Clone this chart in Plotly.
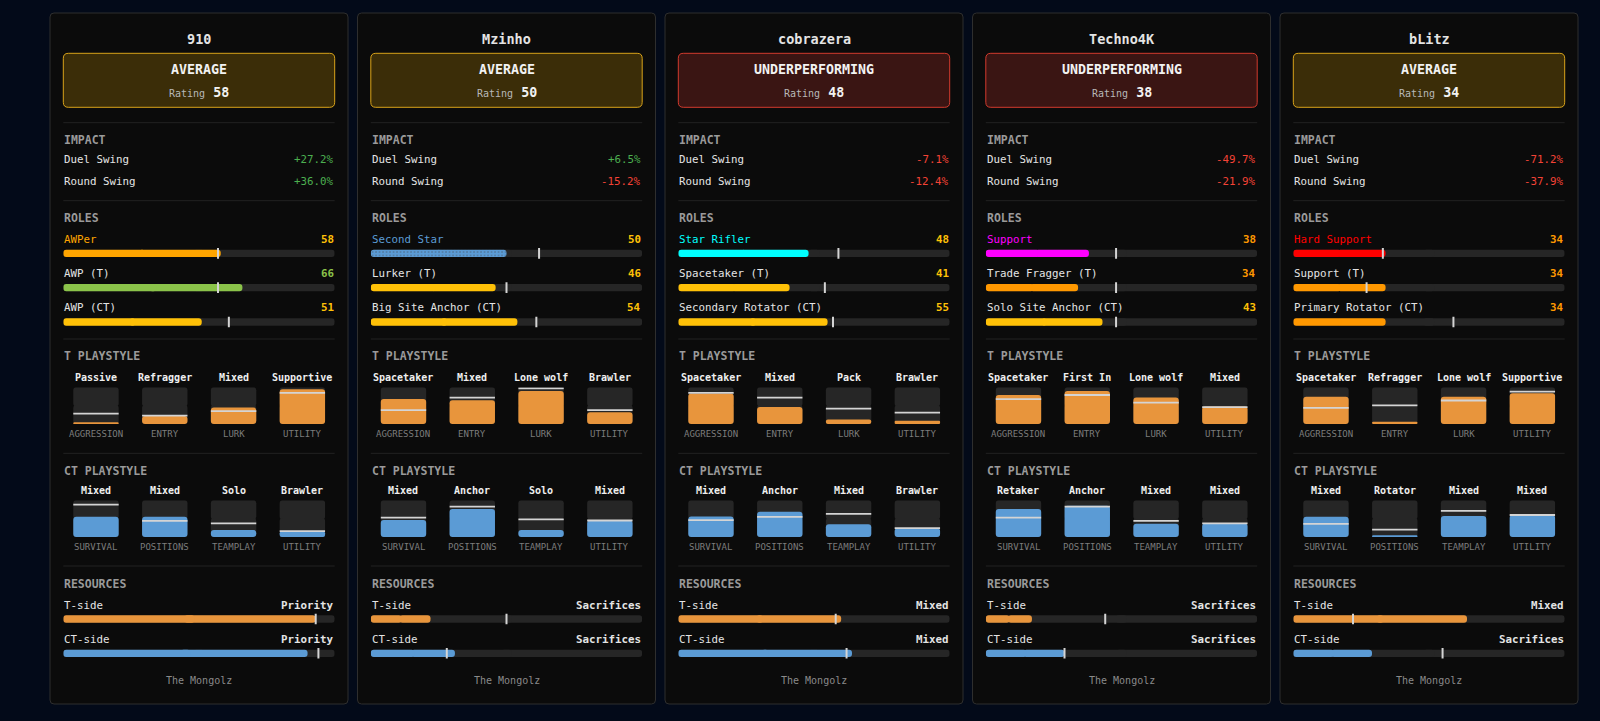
import plotly.graph_objects as go

W, H = 1600, 721

names = ["910", "Mzinho", "cobrazera", "Techno4K", "bLitz"]
verdicts = ["AVERAGE", "AVERAGE", "UNDERPERFORMING", "UNDERPERFORMING", "AVERAGE"]
ratings = [58, 50, 48, 38, 34]
team = "The Mongolz"

duel_swing = [27.2, 6.5, -7.1, -49.7, -71.2]
round_swing = [36.0, -15.2, -12.4, -21.9, -37.9]

role_names = [
    ["AWPer", "AWP (T)", "AWP (CT)"],
    ["Second Star", "Lurker (T)", "Big Site Anchor (CT)"],
    ["Star Rifler", "Spacetaker (T)", "Secondary Rotator (CT)"],
    ["Support", "Trade Fragger (T)", "Solo Site Anchor (CT)"],
    ["Hard Support", "Support (T)", "Primary Rotator (CT)"],
]
role_scores = [[58, 66, 51], [50, 46, 54], [48, 41, 55], [38, 34, 43], [34, 34, 34]]
role_avg = [[57, 57, 61], [62, 50, 61], [59, 54, 57], [48, 48, 48], [33, 27, 59]]
primary_colors = ["#ffa500", "#5b9bd5", "#00ffff", "#ff00ff", "#ff0000"]
primary_dotted = [False, True, False, False, False]

t_metrics = ["AGGRESSION", "ENTRY", "LURK", "UTILITY"]
t_styles = [
    ["Passive", "Refragger", "Mixed", "Supportive"],
    ["Spacetaker", "Mixed", "Lone wolf", "Brawler"],
    ["Spacetaker", "Mixed", "Pack", "Brawler"],
    ["Spacetaker", "First In", "Lone wolf", "Mixed"],
    ["Spacetaker", "Refragger", "Lone wolf", "Supportive"],
]
t_values = [[4, 22, 45, 95], [68, 65, 90, 32], [83, 46, 12, 9], [79, 90, 72, 48], [74, 6, 74, 84]]
t_avg = [[28, 23, 35, 85], [38, 72, 97, 38], [85, 72, 42, 31], [68, 79, 58, 46], [44, 51, 64, 88]]

ct_metrics = ["SURVIVAL", "POSITIONS", "TEAMPLAY", "UTILITY"]
ct_styles = [
    ["Mixed", "Mixed", "Solo", "Brawler"],
    ["Mixed", "Anchor", "Solo", "Mixed"],
    ["Mixed", "Anchor", "Mixed", "Brawler"],
    ["Retaker", "Anchor", "Mixed", "Mixed"],
    ["Mixed", "Rotator", "Mixed", "Mixed"],
]
ct_values = [[55, 55, 19, 16], [46, 76, 19, 45], [56, 69, 35, 24], [76, 85, 36, 37], [55, 3, 57, 60]]
ct_avg = [[88, 44, 37, 16], [53, 83, 48, 45], [46, 55, 63, 24], [53, 83, 44, 37], [36, 20, 71, 60]]

res_sides = ["T-side", "CT-side"]
t_res = [93, 22, 60, 17, 64]
t_res_avg = [93, 50, 58, 44, 22]
ct_res = [90, 31, 64, 29, 29]
ct_res_avg = [94, 28, 62, 29, 55]
t_res_label = ["Priority", "Sacrifices", "Mixed", "Sacrifices", "Mixed"]
ct_res_label = ["Priority", "Sacrifices", "Mixed", "Sacrifices", "Sacrifices"]

# ---- look ----
BG = "#030a19"
CARD = "#0b0b0b"
CARD_LINE = "#2e2e2e"
DIVIDER = "#222222"
TRACK = "#262626"
TXT = "#e4e4e4"
HEAD = "#9a9a9a"
SUB = "#7c7c7c"
T_COL = "#e8953c"
CT_COL = "#5b9bd5"
MARK = "#d4d4d4"
GREEN = "#4caf50"
RED = "#f44336"
FONT = "DejaVu Sans Mono"
VERDICT_STYLE = {"AVERAGE": ("#d9a31a", "#3b2d08"),
                 "UNDERPERFORMING": ("#d23b2e", "#3a1513")}

CARD_X0, CARD_STEP, CARD_W = 50, 307.5, 298
CARD_Y0, CARD_Y1 = 13, 704
PAD = 13.3
CW = CARD_W - 2 * PAD
ROW = 34.3


def px(x):
    return x / W


def py(y):
    return 1 - y / H


def score_color(v):
    if v >= 60:
        return "#8bc34a"
    if v >= 40:
        return "#ffc107"
    return "#ff9800"


fig = go.Figure()
shapes, annotations, axes = [], [], {}
axis_n = [0]


def new_axes(x0, x1, top, bottom, xr, yr):
    axis_n[0] += 1
    s = "" if axis_n[0] == 1 else str(axis_n[0])
    axes["xaxis" + s] = dict(domain=[px(x0), px(x1)], range=xr, visible=False,
                             fixedrange=True, anchor="y" + s)
    axes["yaxis" + s] = dict(domain=[py(bottom), py(top)], range=yr, visible=False,
                             fixedrange=True, anchor="x" + s)
    return "x" + s, "y" + s


def text(x, y, s, size=11, color=TXT, anchor="left", bold=False,
         xref="paper", yref="paper", yshift=0):
    if bold:
        s = "<b>" + s + "</b>"
    annotations.append(dict(x=x, y=y, xref=xref, yref=yref, text=s, showarrow=False,
                            xanchor=anchor, yanchor="middle", yshift=yshift, borderpad=0,
                            font=dict(family=FONT, size=size, color=color)))


def rrect(x0, y0, x1, y1, r):
    return (f"M{px(x0 + r)},{py(y0)} L{px(x1 - r)},{py(y0)} Q{px(x1)},{py(y0)} {px(x1)},{py(y0 + r)} "
            f"L{px(x1)},{py(y1 - r)} Q{px(x1)},{py(y1)} {px(x1 - r)},{py(y1)} "
            f"L{px(x0 + r)},{py(y1)} Q{px(x0)},{py(y1)} {px(x0)},{py(y1 - r)} "
            f"L{px(x0)},{py(y0 + r)} Q{px(x0)},{py(y0)} {px(x0 + r)},{py(y0)} Z")


def pill(xa, ya, idx, values, colors, width, radius, horizontal, pattern=None):
    # two slightly overlapping pieces, one rounded at each end -> bar rounded at both ends
    for lo, hi in ((0.48, 1.0), (0.52, 0.0)):
        base = [v * lo for v in values]
        size = [v * (hi - lo) for v in values]
        mk = dict(color=colors, cornerradius=radius, line=dict(width=0))
        if pattern:
            mk["pattern"] = pattern
        kw = dict(x=size, y=idx, orientation="h") if horizontal else dict(x=idx, y=size)
        fig.add_trace(go.Bar(base=base, width=width, marker=mk, xaxis=xa, yaxis=ya,
                             hoverinfo="skip", showlegend=False, **kw))


def hbars(xa, ya, values, avgs, colors, pattern=None):
    idx = list(range(len(values)))
    pill(xa, ya, idx, [100] * len(values), TRACK, 0.213, "50%", True)
    pill(xa, ya, idx, values, colors, 0.213, "50%", True, pattern)
    fig.add_trace(go.Scatter(x=avgs, y=idx, mode="markers", xaxis=xa, yaxis=ya,
                             marker=dict(symbol="line-ns", size=7.6, color=MARK,
                                         line=dict(color=MARK, width=2)),
                             hoverinfo="skip", showlegend=False))


def vboxes(xa, ya, values, avgs, color):
    idx = list(range(len(values)))
    pill(xa, ya, idx, [100] * 4, TRACK, 0.66, 3, False)
    # fill hangs from its value down to 0, so the rounded end sits at the bottom
    fig.add_trace(go.Bar(x=idx, y=[-v for v in values], base=values, width=0.66,
                         marker=dict(color=color, cornerradius=3, line=dict(width=0)),
                         xaxis=xa, yaxis=ya, hoverinfo="skip", showlegend=False))
    fig.add_trace(go.Scatter(x=idx, y=avgs, mode="markers", xaxis=xa, yaxis=ya,
                             marker=dict(symbol="line-ew", size=32.4, color=MARK,
                                         line=dict(color=MARK, width=1.8)),
                             hoverinfo="skip", showlegend=False))


for i in range(len(names)):
    L = CARD_X0 + CARD_STEP * i
    CL, CR = L + PAD, L + PAD + CW
    mid = L + CARD_W / 2

    # card + rating box
    shapes.append(dict(type="path", path=rrect(L, CARD_Y0, L + CARD_W, CARD_Y1, 4),
                       xref="paper", yref="paper", fillcolor=CARD,
                       line=dict(color=CARD_LINE, width=1), layer="below"))
    edge, fill = VERDICT_STYLE[verdicts[i]]
    shapes.append(dict(type="path", path=rrect(CL, 53.3, CR, 107.3, 5),
                       xref="paper", yref="paper", fillcolor=fill,
                       line=dict(color=edge, width=1), layer="below"))
    for yd in (122.7, 200.7, 339, 453.3, 566):
        shapes.append(dict(type="line", x0=px(CL), x1=px(CR), y0=py(yd), y1=py(yd),
                           xref="paper", yref="paper", line=dict(color=DIVIDER, width=1),
                           layer="below"))

    text(px(mid), py(39.3), names[i], size=13.5, anchor="center", bold=True)
    text(px(mid), py(70), verdicts[i], size=13.3, anchor="center", bold=True, color="#f2f2f2")
    text(px(mid), py(92.5),
         f"<span style='font-size:10px;color:#b8b8b8'>Rating</span> <b>{ratings[i]}</b>",
         size=13.3, anchor="center", color="#f2f2f2")

    # impact
    text(px(CL), py(140), "IMPACT", size=11.5, color=HEAD, bold=True)
    for yy, lab, v in ((159.3, "Duel Swing", duel_swing[i]), (181, "Round Swing", round_swing[i])):
        text(px(CL), py(yy), lab, size=10.8)
        text(px(CR), py(yy), f"{v:+.1f}%", size=10.8, anchor="right",
             color=GREEN if v >= 0 else RED)

    # roles
    text(px(CL), py(217.7), "ROLES", size=11.5, color=HEAD, bold=True)
    xa, ya = new_axes(CL, CR, 253.3 - ROW / 2, 322 + ROW / 2, [0, 100], [2.5, -0.5])
    bar_cols = [primary_colors[i]] + [score_color(v) for v in role_scores[i][1:]]
    pattern = None
    if primary_dotted[i]:
        pattern = dict(shape=[".", "", ""], fgcolor="#a9cdf2", fgopacity=0.6,
                       size=3.5, solidity=0.15)
    hbars(xa, ya, role_scores[i], role_avg[i], bar_cols, pattern)
    for k, (rn, sc) in enumerate(zip(role_names[i], role_scores[i])):
        text(0, k, rn, size=10.8, color=primary_colors[i] if k == 0 else TXT,
             xref=xa, yref=ya, yshift=14)
        text(100, k, str(sc), size=10.8, color=score_color(sc), anchor="right", bold=True,
             xref=xa, yref=ya, yshift=14)

    # playstyles
    for head, hy, top, bot, styles, vals, avgs, metrics, col in (
            ("T PLAYSTYLE", 356, 387.3, 424, t_styles[i], t_values[i], t_avg[i], t_metrics, T_COL),
            ("CT PLAYSTYLE", 470.7, 500.3, 537, ct_styles[i], ct_values[i], ct_avg[i], ct_metrics, CT_COL)):
        text(px(CL), py(hy), head, size=11.5, color=HEAD, bold=True)
        xa, ya = new_axes(CL, CR, top, bot, [-0.475, 3.47], [0, 100])
        vboxes(xa, ya, vals, avgs, col)
        for k in range(4):
            text(k, 100, styles[k], size=10, color="#efefef", anchor="center", bold=True,
                 xref=xa, yref=ya, yshift=10)
            text(k, 0, metrics[k], size=9, color=SUB, anchor="center",
                 xref=xa, yref=ya, yshift=-9.5)

    # resources
    text(px(CL), py(583.7), "RESOURCES", size=11.5, color=HEAD, bold=True)
    xa, ya = new_axes(CL, CR, 619 - ROW / 2, 653.3 + ROW / 2, [0, 100], [1.5, -0.5])
    hbars(xa, ya, [t_res[i], ct_res[i]], [t_res_avg[i], ct_res_avg[i]], [T_COL, CT_COL])
    for k, lab in enumerate((t_res_label[i], ct_res_label[i])):
        text(0, k, res_sides[k], size=10.8, xref=xa, yref=ya, yshift=14)
        text(100, k, lab, size=10.8, anchor="right", bold=True, xref=xa, yref=ya, yshift=14)

    text(px(mid), py(680), team, size=10, color="#8a8a8a", anchor="center")

fig.update_layout(axes)
fig.update_layout(
    width=W, height=H, margin=dict(l=0, r=0, t=0, b=0),
    paper_bgcolor=BG, plot_bgcolor="rgba(0,0,0,0)",
    barmode="overlay", showlegend=False,
    shapes=shapes, annotations=annotations,
    font=dict(family=FONT, color=TXT),
)

fig.write_html("out.html", config={"displayModeBar": False},
               post_script="document.body.style.margin='0';"
                           "document.body.style.background='" + BG + "';")
